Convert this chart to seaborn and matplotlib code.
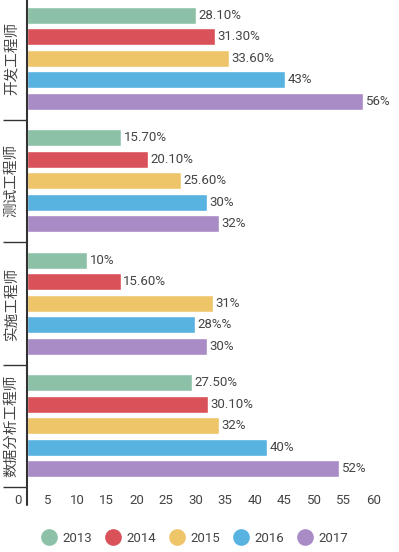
import pandas as pd
import matplotlib.pyplot as plt
import seaborn as sns
from matplotlib.lines import Line2D
from matplotlib.transforms import ScaledTranslation

# Data
roles = ['开发工程师', '测试工程师', '实施工程师', '数据分析工程师']
years = ['2013', '2014', '2015', '2016', '2017']

v2013 = [28.1, 15.7, 10, 27.5]
v2014 = [31.3, 20.1, 15.6, 30.1]
v2015 = [33.6, 25.6, 31, 32]
v2016 = [43, 30, 28, 40]
v2017 = [56, 32, 30, 52]

# value labels as printed (incl. the "28%%" typo of the original)
t2013 = ['28.10%', '15.70%', '10%', '27.50%']
t2014 = ['31.30%', '20.10%', '15.60%', '30.10%']
t2015 = ['33.60%', '25.60%', '31%', '32%']
t2016 = ['43%', '30%', '28%%', '40%']
t2017 = ['56%', '32%', '30%', '52%']

xticks = list(range(0, 65, 5))
colors = ['#8CC1A8', '#D9525A', '#EFC56A', '#58B3E0', '#A98CC6']

values = [v2013, v2014, v2015, v2016, v2017]
texts = [t2013, t2014, t2015, t2016, t2017]

rows = []
for y, vals in zip(years, values):
    for r, v in zip(roles, vals):
        rows.append({'role': r, 'year': y, 'value': v})
df = pd.DataFrame(rows)

sns.set_theme(style='white')
plt.rcParams['font.family'] = ['Roboto', 'Noto Sans CJK SC', 'DejaVu Sans']
txt_col = '#444444'

fig = plt.figure(figsize=(3.99, 5.52), dpi=100)
ax = fig.add_axes([27 / 399, 65 / 552, 360 / 399, 490 / 552])

sns.barplot(data=df, y='role', x='value', hue='year', orient='h',
            palette=colors, saturation=1, width=0.878, gap=0.23,
            legend=False, ax=ax)

for cont, lab in zip(ax.containers, texts):
    ax.bar_label(cont, labels=lab, padding=2, fontsize=9.5, color=txt_col)

ax.set_xlim(0, 60)
ax.set_ylim(3.5, -0.5)
ax.set_xlabel('')
ax.set_ylabel('')
for s in ax.spines.values():
    s.set_visible(False)

# axis line running a bit below the plot area
ax.axvline(0, ymin=-18 / 490, ymax=1, color='#333333', lw=1.5, clip_on=False)

# group separators as major ticks, role names as minor ticks
ax.set_yticks([-0.5, 0.5, 1.5, 2.5, 3.5], labels=[''] * 5)
ax.set_yticks(range(4), labels=roles, minor=True)
ax.tick_params(axis='y', which='major', left=True, length=17, width=1, color='#333333')
ax.tick_params(axis='y', which='minor', left=True, length=0, pad=6,
               labelsize=10.5, labelcolor=txt_col, labelrotation=90)
for lab in ax.get_yticklabels(minor=True):
    lab.set_va('center')

ax.set_xticks(xticks)
ax.tick_params(axis='x', bottom=True, length=0, pad=5, labelsize=9.5, labelcolor=txt_col)
for i, lab in enumerate(ax.get_xticklabels()):
    dx = -(9 + 4.7 * i / 12) / 100
    lab.set_transform(lab.get_transform() + ScaledTranslation(dx, 0, fig.dpi_scale_trans))

handles = [Line2D([], [], marker='o', ls='', markersize=11, color=c) for c in colors]
fig.legend(handles, years, loc='center', bbox_to_anchor=(0.49, 14 / 552), ncol=5,
           frameon=False, handlelength=1.0, handletextpad=0.5, columnspacing=1.1,
           fontsize=9.5, labelcolor=txt_col)

fig.savefig('out.png', dpi=100)
